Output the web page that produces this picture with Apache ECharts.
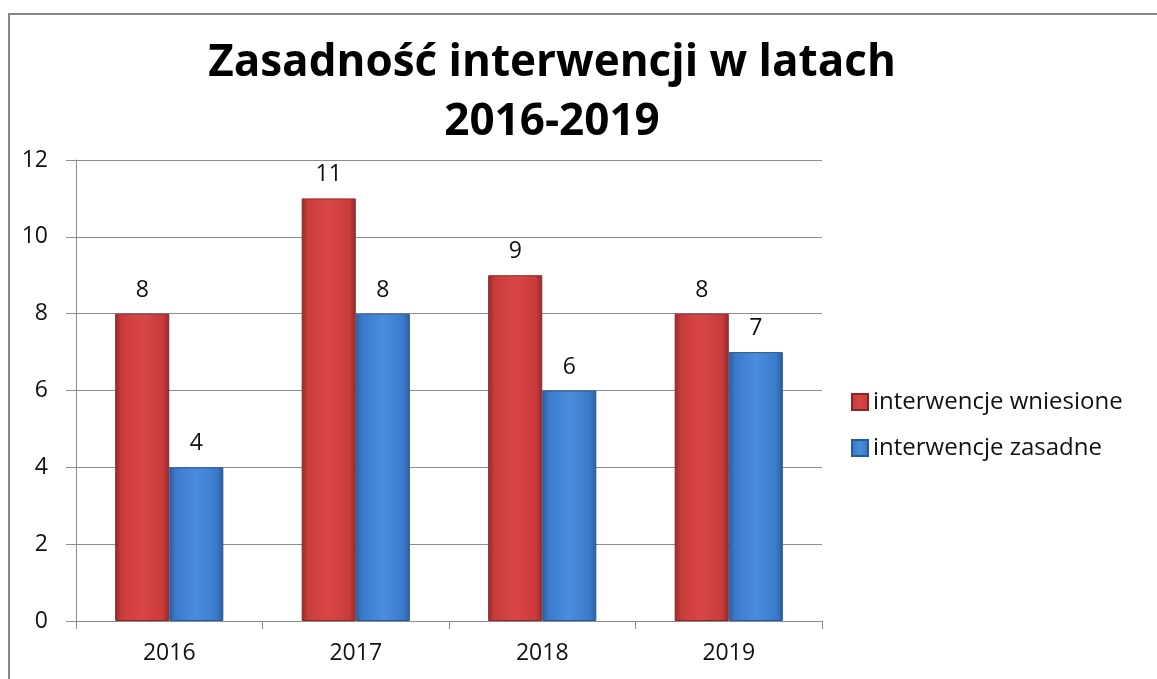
<!DOCTYPE html>
<html>
<head>
<meta charset="utf-8">
<script src="https://cdn.jsdelivr.net/npm/echarts@6/dist/echarts.min.js"></script>
<style>
    html, body { margin: 0; padding: 0; background: #fff; }
    #chart { width: 1157px; height: 679px; }
</style>
</head>
<body>
<div id="chart"></div>
<script>
// dane z wykresu
const years = ['2016', '2017', '2018', '2019']
const wniesione = [8, 11, 9, 8]
const zasadne = [4, 8, 6, 7]
const yTicks = [0, 2, 4, 6, 8, 10, 12]

const font = '"Open Sans", "Noto Sans", sans-serif'

// pseudo-3D look of the bars
function bevel(dark, mid, light) {
    return new echarts.graphic.LinearGradient(0, 0, 1, 0, [
        { offset: 0, color: dark },
        { offset: 0.12, color: mid },
        { offset: 0.5, color: light },
        { offset: 0.88, color: mid },
        { offset: 1, color: dark }
    ])
}

const chart = echarts.init(document.getElementById('chart'))
chart.setOption({
    animation: false,
    title: {
        text: 'Zasadność interwencji w latach\n2016-2019',
        left: 547,
        textAlign: 'center',
        top: 29,
        textStyle: {
            fontFamily: font,
            fontSize: 44,
            fontWeight: 'bold',
            color: '#000',
            lineHeight: 59
        }
    },
    graphic: [
        {
            type: 'polyline',
            shape: { points: [[9, 679], [9, 14], [1157, 14]] },
            style: { stroke: '#868686', lineWidth: 2, fill: null }
        }
    ],
    grid: {
        left: 76,
        right: 335,
        top: 160,
        bottom: 58
    },
    legend: {
        orient: 'vertical',
        left: 846,
        top: 385,
        itemWidth: 16,
        itemHeight: 16,
        itemGap: 22,
        icon: 'rect',
        textStyle: { fontFamily: font, fontSize: 24, color: '#111' }
    },
    xAxis: {
        type: 'category',
        data: years,
        axisLine: { lineStyle: { color: '#8c8c8c', width: 1 } },
        axisTick: { show: true, length: 8, lineStyle: { color: '#8c8c8c' } },
        axisLabel: { fontFamily: font, fontSize: 23, color: '#111', margin: 21 }
    },
    yAxis: {
        type: 'value',
        min: yTicks[0],
        max: yTicks[yTicks.length - 1],
        interval: 2,
        axisLine: { show: true, lineStyle: { color: '#8c8c8c' } },
        axisTick: { show: true, length: 10, lineStyle: { color: '#8c8c8c' } },
        axisLabel: { fontFamily: font, fontSize: 23, color: '#111', margin: 28 },
        splitLine: { lineStyle: { color: '#8c8c8c', width: 1 } }
    },
    series: [
        {
            name: 'interwencje wniesione',
            type: 'bar',
            data: wniesione,
            barGap: '0%',
            barCategoryGap: '42%',
            color: '#c0393b',
            itemStyle: {
                color: bevel('#962a2a', '#c93c3c', '#da4646'),
                borderColor: '#8a2626',
                borderWidth: 1
            },
            label: {
                show: true,
                position: 'top',
                distance: 12,
                fontFamily: font,
                fontSize: 23,
                color: '#111'
            }
        },
        {
            name: 'interwencje zasadne',
            type: 'bar',
            data: zasadne,
            color: '#3a78c4',
            itemStyle: {
                color: bevel('#2a5d9c', '#3b7acb', '#4a8ddc'),
                borderColor: '#275a96',
                borderWidth: 1
            },
            label: {
                show: true,
                position: 'top',
                distance: 12,
                fontFamily: font,
                fontSize: 23,
                color: '#111'
            }
        }
    ]
})
</script>
</body>
</html>
